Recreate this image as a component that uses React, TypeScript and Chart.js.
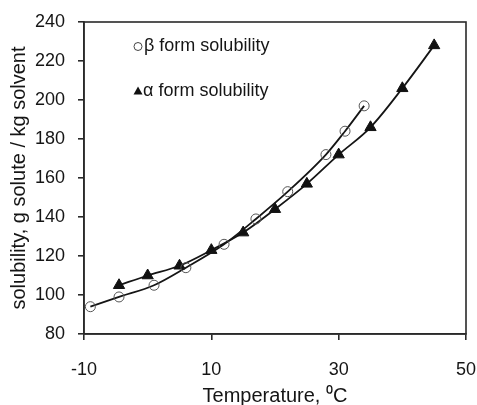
import React, { useEffect, useRef } from "react";
import { Chart, registerables } from "chart.js";

Chart.register(...registerables);

const betaTemps = [-9, -4.5, 1, 6, 12, 17, 22, 28, 31, 34];
const betaSolubility = [94, 99, 105, 114, 126, 139, 153, 172, 184, 197];
const alphaTemps = [-4.5, 0, 5, 10, 15, 20, 25, 30, 35, 40, 45];
const alphaSolubility = [105, 110, 115, 123, 132, 144, 157, 172, 186, 206, 228];

const xTickValues = [-10, 10, 30, 50];
const yTickValues = [80, 100, 120, 140, 160, 180, 200, 220, 240];

const betaLabel = "β form solubility";
const alphaLabel = "α form solubility";
const xTitle = "Temperature, ⁰C";
const yTitle = "solubility, g solute / kg solvent";

const FONT = "'Liberation Sans', Arial, sans-serif";
const INK = "#151515";

const framePlugin = {
  id: "frameAndText",
  afterDraw(chart: any) {
    const { ctx, chartArea } = chart;
    const { left, right, top, bottom } = chartArea;
    ctx.save();
    ctx.strokeStyle = "#2a2a2a";
    ctx.lineWidth = 1.6;
    ctx.strokeRect(left, top, right - left, bottom - top);

    // legend
    ctx.font = `18px ${FONT}`;
    ctx.textBaseline = "middle";
    ctx.textAlign = "left";
    ctx.beginPath();
    ctx.arc(left + 54, top + 24.5, 4, 0, Math.PI * 2);
    ctx.fillStyle = "#fff";
    ctx.fill();
    ctx.strokeStyle = "#444";
    ctx.lineWidth = 1;
    ctx.stroke();
    ctx.fillStyle = INK;
    ctx.fillText(betaLabel, left + 60, top + 24.5);
    const tx = left + 54;
    const ty = top + 69.5;
    ctx.beginPath();
    ctx.moveTo(tx, ty - 5);
    ctx.lineTo(tx + 4.5, ty + 3);
    ctx.lineTo(tx - 4.5, ty + 3);
    ctx.closePath();
    ctx.fillStyle = "#111";
    ctx.fill();
    ctx.fillStyle = INK;
    ctx.fillText(alphaLabel, left + 59, top + 69.5);

    // axis titles
    ctx.font = `20px ${FONT}`;
    ctx.textAlign = "center";
    ctx.textBaseline = "alphabetic";
    ctx.fillText(xTitle, (left + right) / 2, 402);
    ctx.save();
    ctx.translate(25, (top + bottom) / 2);
    ctx.rotate(-Math.PI / 2);
    ctx.fillText(yTitle, 0, 0);
    ctx.restore();
    ctx.restore();
  },
};

export default function App() {
  const canvasRef = useRef<HTMLCanvasElement | null>(null);

  useEffect(() => {
    if (!canvasRef.current) return;
    const chart = new Chart(canvasRef.current, {
      type: "line",
      data: {
        datasets: [
          {
            label: betaLabel,
            data: betaTemps.map((t, i) => ({ x: t, y: betaSolubility[i] })),
            borderColor: "#151515",
            borderWidth: 1.8,
            backgroundColor: "#fff",
            pointStyle: "circle",
            pointRadius: 5,
            pointBorderColor: "#555",
            pointBorderWidth: 1,
            pointBackgroundColor: "rgba(255,255,255,0)",
            cubicInterpolationMode: "monotone",
            fill: false,
          },
          {
            label: alphaLabel,
            data: alphaTemps.map((t, i) => ({ x: t, y: alphaSolubility[i] })),
            borderColor: "#151515",
            borderWidth: 1.8,
            backgroundColor: "#111",
            pointStyle: "triangle",
            pointRadius: 6.5,
            pointBorderColor: "#111",
            pointBorderWidth: 1,
            pointBackgroundColor: "#111",
            cubicInterpolationMode: "monotone",
            fill: false,
          },
        ],
      },
      options: {
        animation: false,
        responsive: true,
        maintainAspectRatio: false,
        layout: { padding: { left: 0, top: 22, right: 11, bottom: 0 } },
        plugins: {
          legend: { display: false },
          tooltip: { enabled: false },
        },
        scales: {
          x: {
            type: "linear",
            min: -10,
            max: 50,
            afterBuildTicks: (scale: any) => {
              scale.ticks = xTickValues.map((v) => ({ value: v }));
            },
            afterFit: (scale: any) => {
              scale.height = 71;
              scale.paddingLeft = 0;
              scale.paddingRight = 0;
            },
            ticks: {
              color: INK,
              font: { family: FONT, size: 18 },
              padding: 19,
              maxRotation: 0,
            },
            grid: {
              drawOnChartArea: false,
              drawTicks: true,
              tickLength: 6,
              color: "#2a2a2a",
              lineWidth: 1.6,
            },
            border: { display: true, color: "#2a2a2a", width: 1.6 },
          },
          y: {
            type: "linear",
            min: 80,
            max: 240,
            afterBuildTicks: (scale: any) => {
              scale.ticks = yTickValues.map((v) => ({ value: v }));
            },
            afterFit: (scale: any) => {
              scale.width = 84;
              scale.paddingTop = 0;
              scale.paddingBottom = 0;
            },
            ticks: {
              color: INK,
              font: { family: FONT, size: 18 },
              padding: 13,
            },
            grid: {
              drawOnChartArea: false,
              drawTicks: true,
              tickLength: 6,
              color: "#2a2a2a",
              lineWidth: 1.6,
            },
            border: { display: true, color: "#2a2a2a", width: 1.6 },
          },
        },
      },
      plugins: [framePlugin],
    } as any);
    return () => chart.destroy();
  }, []);

  return (
    <div style={{ position: "absolute", left: 0, top: 0, width: 477, height: 405, background: "#fff" }}>
      <canvas ref={canvasRef} />
    </div>
  );
}
